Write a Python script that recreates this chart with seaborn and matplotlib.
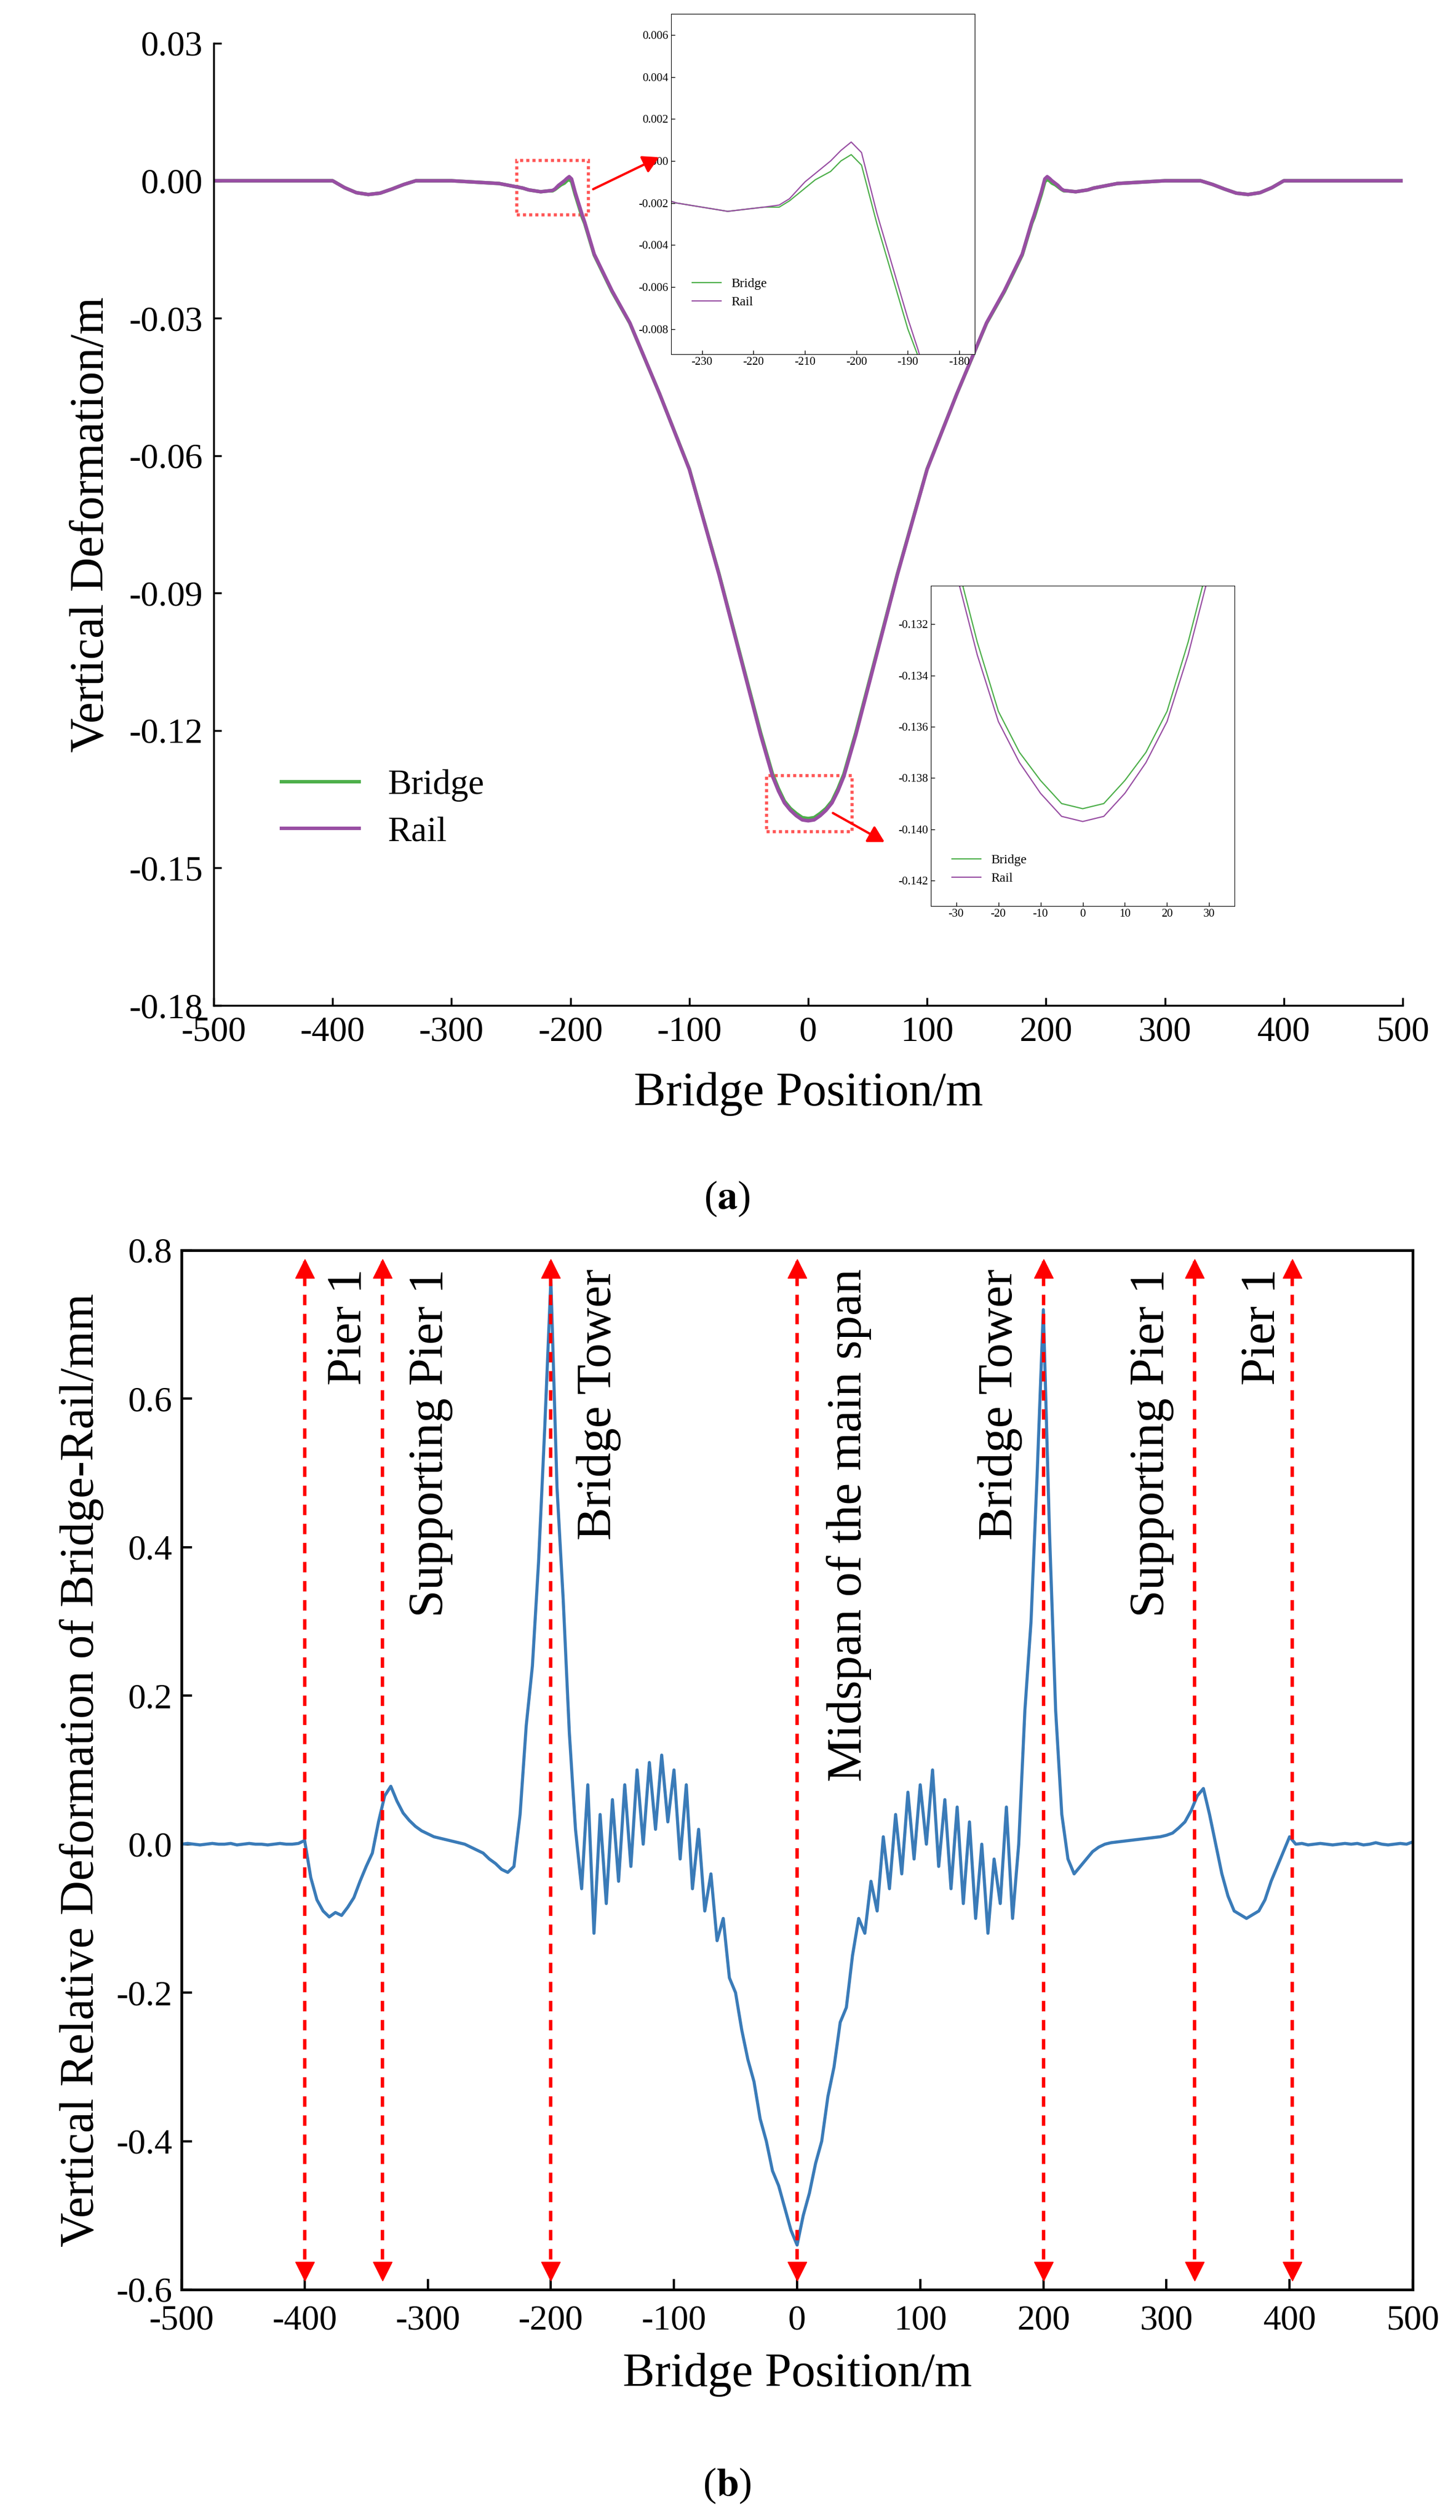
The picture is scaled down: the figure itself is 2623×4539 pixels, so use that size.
import numpy as np
import pandas as pd
import matplotlib
matplotlib.use("Agg")
import matplotlib.pyplot as plt
import seaborn as sns
from matplotlib.patches import Rectangle, FancyArrowPatch
from matplotlib.lines import Line2D
from matplotlib.ticker import FormatStrFormatter

plt.rcParams["font.family"] = "Liberation Serif"
plt.rcParams["axes.unicode_minus"] = False
plt.rcParams["mathtext.fontset"] = "stix"

# ---------------- Panel (a) data ----------------
pos_a = [-500, -400, -390, -380, -370, -360, -350, -340, -330, -300, -260, -240, -235, -225, -218, -215, -213,
         -210, -208, -205, -203, -201, -199, -196, -193, -190, -188, -180, -165, -150, -125, -100, -75, -50,
         -40, -35, -30, -25, -20, -15, -10, -5, 0, 5, 10, 15, 20, 25, 30, 35, 40,
         50, 75, 100, 125, 150, 165, 180, 188, 190, 193, 196, 199, 201, 203, 205, 208, 210, 213, 215, 218,
         225, 235, 240, 260, 300, 330, 340, 350, 360, 370, 380, 390, 400, 500]
rail = [0.0, 0.0, -0.0015, -0.0026, -0.003, -0.0027, -0.0018, -0.0008, 0.0, 0.0, -0.0006, -0.0016, -0.0020, -0.0024,
        -0.0022, -0.0021, -0.0018, -0.0010, -0.0006, 0.0000, 0.0005, 0.0009, 0.0004, -0.0025, -0.0050, -0.0075,
        -0.0090, -0.0160, -0.0240, -0.0310, -0.0465, -0.0630, -0.0860, -0.1110,
        -0.1210, -0.1255, -0.1300, -0.1332, -0.1358, -0.1374, -0.1386, -0.1395, -0.1397, -0.1395, -0.1386, -0.1374, -0.1358, -0.1332, -0.1300, -0.1255, -0.1210,
        -0.1110, -0.0860, -0.0630, -0.0465, -0.0310, -0.0240, -0.0160, -0.0090, -0.0075, -0.0050, -0.0025, 0.0004,
        0.0009, 0.0005, 0.0000, -0.0006, -0.0010, -0.0018, -0.0021, -0.0022,
        -0.0024, -0.0020, -0.0016, -0.0006, 0.0, 0.0, -0.0008, -0.0018, -0.0027, -0.003, -0.0026, -0.0015, 0.0, 0.0]
bridge = [0.0, 0.0, -0.0015, -0.0026, -0.003, -0.0027, -0.0018, -0.0008, 0.0, 0.0, -0.0006, -0.0016, -0.0020, -0.0024,
          -0.0022, -0.0022, -0.0019, -0.0013, -0.0009, -0.0005, 0.0000, 0.0003, -0.0002, -0.0030, -0.0055, -0.0080,
          -0.0093, -0.0162, -0.0242, -0.0311, -0.0465, -0.0629, -0.0858, -0.1106,
          -0.1205, -0.1250, -0.1295, -0.1327, -0.1354, -0.1370, -0.1381, -0.1390, -0.1392, -0.1390, -0.1381, -0.1370, -0.1354, -0.1327, -0.1295, -0.1250, -0.1205,
          -0.1106, -0.0858, -0.0629, -0.0465, -0.0311, -0.0242, -0.0162, -0.0093, -0.0080, -0.0055, -0.0030, -0.0002,
          0.0003, 0.0000, -0.0005, -0.0009, -0.0013, -0.0019, -0.0022, -0.0022,
          -0.0024, -0.0020, -0.0016, -0.0006, 0.0, 0.0, -0.0008, -0.0018, -0.0027, -0.003, -0.0026, -0.0015, 0.0, 0.0]

# ---------------- Panel (b) data ----------------
pos_b = np.arange(-500, 505, 5)
rel_def = [
    0.000, 0.001, 0.000, -0.001, 0.000, 0.001, 0.000, 0.000, 0.001, -0.001,
    0.000, 0.001, 0.000, 0.000, -0.001, 0.000, 0.001, 0.000, 0.000, 0.001,
    0.005, -0.045, -0.075, -0.090, -0.098, -0.092, -0.096, -0.085, -0.072, -0.050,
    -0.030, -0.012, 0.030, 0.065, 0.078, 0.058, 0.042, 0.032, 0.024, 0.018,
    0.014, 0.010, 0.008, 0.006, 0.004, 0.002, 0.000, -0.004, -0.008, -0.012,
    -0.020, -0.026, -0.034, -0.038, -0.030, 0.040, 0.160, 0.240, 0.380, 0.560,
    0.760, 0.480, 0.330, 0.150, 0.020, -0.060, 0.080, -0.120, 0.040, -0.080,
    0.060, -0.050, 0.080, -0.030, 0.100, 0.000, 0.110, 0.020, 0.120, 0.030,
    0.100, -0.020, 0.080, -0.060, 0.020, -0.090, -0.040, -0.130, -0.100, -0.180,
    -0.200, -0.250, -0.290, -0.320, -0.370, -0.400, -0.440, -0.460, -0.490, -0.520,
    -0.540, -0.500, -0.470, -0.430, -0.400, -0.340, -0.300, -0.240, -0.220, -0.150,
    -0.100, -0.120, -0.050, -0.090, 0.010, -0.060, 0.040, -0.040, 0.070, -0.020,
    0.080, 0.000, 0.100, -0.030, 0.060, -0.060, 0.050, -0.080, 0.030, -0.100,
    0.000, -0.120, -0.020, -0.080, 0.050, -0.100, 0.000, 0.180, 0.300, 0.500,
    0.720, 0.420, 0.180, 0.040, -0.020, -0.040, -0.030, -0.020, -0.010, -0.004,
    0.000, 0.002, 0.003, 0.004, 0.005, 0.006, 0.007, 0.008, 0.009, 0.010,
    0.012, 0.015, 0.022, 0.030, 0.045, 0.065, 0.075, 0.040, 0.000, -0.040,
    -0.070, -0.090, -0.095, -0.100, -0.095, -0.090, -0.075, -0.050, -0.030, -0.010,
    0.010, 0.000, 0.001, -0.001, 0.000, 0.001, 0.000, -0.001, 0.000, 0.001,
    0.000, 0.001, -0.001, 0.000, 0.002, 0.000, -0.001, 0.000, 0.001, 0.000,
    0.003]

marker_pos = [-400, -337, -200, 0, 200, 323, 402]
labels = ["Pier 1", "Supporting Pier 1", "Bridge Tower", "Midspan of the main span",
          "Bridge Tower", "Supporting Pier 1", "Pier 1"]
label_pos = [-364, -298, -161, 42, 165, 288, 378]

GREEN = "#4daf4a"
PURPLE = "#984ea3"
BLUE = "#3a7bb8"
W, H = 2623, 4539

df_a = pd.DataFrame({"x": pos_a * 2, "y": bridge + rail,
                     "s": ["Bridge"] * len(pos_a) + ["Rail"] * len(pos_a)})
df_b = pd.DataFrame({"x": pos_b, "y": rel_def})

fig = plt.figure(figsize=(W / 100, H / 100), dpi=100)

def fx(px): return px / W
def fy(py): return 1 - py / H

def handles(lw):
    return [Line2D([0], [0], color=GREEN, lw=lw), Line2D([0], [0], color=PURPLE, lw=lw)]

# ---- main axes (a)
axa = fig.add_axes([fx(385), fy(1811), fx(2527) - fx(385), fy(78) - fy(1811)])
sns.lineplot(data=df_a, x="x", y="y", hue="s", palette=[GREEN, PURPLE], lw=4.5, ax=axa, sort=False, legend=False)
axa.set_xlim(-500, 500)
axa.set_ylim(-0.18, 0.03)
axa.set_xticks(np.arange(-500, 501, 100))
axa.set_yticks(np.arange(-0.18, 0.031, 0.03))
axa.yaxis.set_major_formatter(FormatStrFormatter("%.2f"))
axa.tick_params(labelsize=46, direction="in", length=10, width=2.5, pad=14)
for s in ["top", "right"]:
    axa.spines[s].set_visible(False)
for s in ["left", "bottom"]:
    axa.spines[s].set_linewidth(2.5)
axa.set_xlabel("Bridge Position/m", fontsize=62, labelpad=30)
axa.set_ylabel("Vertical Deformation/m", fontsize=62, labelpad=20)
axa.legend(handles(4.5), ["Bridge", "Rail"], loc="lower left", bbox_to_anchor=(0.03, 0.13), fontsize=46,
           frameon=False, handlelength=2.2, labelspacing=0.4)
axa.add_patch(Rectangle((-245, -0.0074), 60, 0.0118, fill=False, ec="#ff5555", lw=4, ls=(0, (1, 1))))
axa.add_patch(Rectangle((-35, -0.1421), 72, 0.0123, fill=False, ec="#ff5555", lw=4, ls=(0, (1, 1))))

for (x0, y0, x1, y1) in [(1066, 342, 1190, 282), (1498, 1463, 1596, 1518)]:
    fig.add_artist(FancyArrowPatch((fx(x0), fy(y0)), (fx(x1), fy(y1)), transform=fig.transFigure,
                                   arrowstyle="-|>,head_length=0.8,head_width=0.45", color="red", lw=3,
                                   mutation_scale=22))

# ---- inset 1
ax1 = fig.add_axes([fx(1209), fy(638), fx(1756) - fx(1209), fy(25) - fy(638)])
sns.lineplot(data=df_a, x="x", y="y", hue="s", palette=[GREEN, PURPLE], lw=1.6, ax=ax1, sort=False, legend=False)
ax1.set_xlim(-236, -177)
ax1.set_ylim(-0.0092, 0.007)
ax1.set_xticks(np.arange(-230, -179, 10))
ax1.set_yticks(np.arange(-0.008, 0.0061, 0.002))
ax1.yaxis.set_major_formatter(FormatStrFormatter("%.3f"))
ax1.tick_params(labelsize=15, direction="in", length=5, width=1)
ax1.set_xlabel(""); ax1.set_ylabel("")
ax1.legend(handles(1.6), ["Bridge", "Rail"], loc="lower left", bbox_to_anchor=(0.03, 0.1), fontsize=17,
           frameon=False, handlelength=2.2)

# ---- inset 2
ax2 = fig.add_axes([fx(1677), fy(1632), fx(2224) - fx(1677), fy(1055) - fy(1632)])
sns.lineplot(data=df_a, x="x", y="y", hue="s", palette=[GREEN, PURPLE], lw=1.6, ax=ax2, sort=False, legend=False)
ax2.set_xlim(-36, 36)
ax2.set_ylim(-0.1430, -0.1305)
ax2.set_xticks(np.arange(-30, 31, 10))
ax2.set_yticks(np.arange(-0.142, -0.1315, 0.002))
ax2.yaxis.set_major_formatter(FormatStrFormatter("%.3f"))
ax2.tick_params(labelsize=15, direction="in", length=5, width=1)
ax2.set_xlabel(""); ax2.set_ylabel("")
ax2.legend(handles(1.6), ["Bridge", "Rail"], loc="lower left", bbox_to_anchor=(0.03, 0.03), fontsize=17,
           frameon=False, handlelength=2.2)

fig.text(fx(1310), fy(2159), r"($\mathbf{a}$)", fontsize=52, ha="center", va="center")

# ---- panel (b)
axb = fig.add_axes([fx(327), fy(4124), fx(2545) - fx(327), fy(2252) - fy(4124)])
sns.lineplot(data=df_b, x="x", y="y", color=BLUE, lw=4, ax=axb)
axb.set_xlim(-500, 500)
axb.set_ylim(-0.6, 0.8)
axb.set_xticks(np.arange(-500, 501, 100))
axb.set_yticks(np.arange(-0.6, 0.81, 0.2))
axb.yaxis.set_major_formatter(FormatStrFormatter("%.1f"))
axb.tick_params(labelsize=46, direction="in", length=14, width=3, pad=12)
axb.tick_params(axis="x", pad=20)
for s in axb.spines.values():
    s.set_linewidth(3.5)
for xp in marker_pos:
    axb.plot([xp, xp], [-0.585, 0.785], color="red", lw=4.5, ls=(0, (3, 2.5)))
    axb.plot([xp], [0.775], marker="^", ms=24, color="red", clip_on=False)
    axb.plot([xp], [-0.575], marker="v", ms=24, color="red", clip_on=False)
for lp, lab in zip(label_pos, labels):
    axb.text(lp, 0.775, lab, rotation=90, ha="center", va="top", fontsize=64)
axb.set_xlabel("Bridge Position/m", fontsize=62, labelpad=20)
axb.set_ylabel("Vertical Relative Deformation of Bridge-Rail/mm", fontsize=62, labelpad=16)

fig.text(fx(1310), fy(4477), r"($\mathbf{b}$)", fontsize=52, ha="center", va="center")

fig.savefig("out.png", dpi=100)
